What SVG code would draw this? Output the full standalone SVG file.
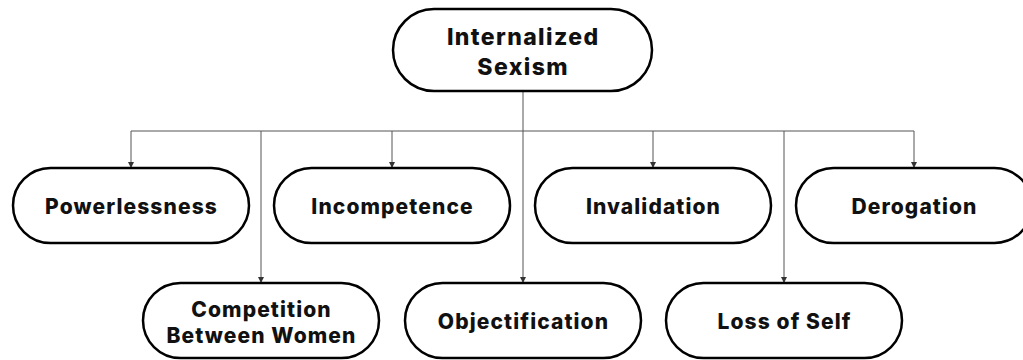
<svg xmlns="http://www.w3.org/2000/svg" width="1023" height="360" viewBox="0 0 1023 360">
<defs>
<style>
.box{fill:#fff;stroke:#000;stroke-width:2.5}
.t{font-family:Inter,"Liberation Sans",sans-serif;font-weight:800;font-size:21px;letter-spacing:1.1px;fill:#111;text-anchor:middle}
.tt{font-size:23px;letter-spacing:1.4px}
.c{fill:none;stroke:#555;stroke-width:1}
</style>
<marker id="a" markerWidth="6" markerHeight="6" refX="5" refY="3" orient="auto" markerUnits="userSpaceOnUse">
<path d="M0,0 L6,3 L0,6 z" fill="#333"/>
</marker>
</defs>
<rect width="1023" height="360" fill="#fff"/>
<g id="connectors">
<path class="c" d="M523,91 V131"/>
<path class="c" d="M131,131 H914"/>
<path class="c" d="M131,131 V167" marker-end="url(#a)"/>
<path class="c" d="M392,131 V167" marker-end="url(#a)"/>
<path class="c" d="M653,131 V167" marker-end="url(#a)"/>
<path class="c" d="M914,131 V167" marker-end="url(#a)"/>
<path class="c" d="M261,131 V282" marker-end="url(#a)"/>
<path class="c" d="M523,131 V282" marker-end="url(#a)"/>
<path class="c" d="M784,131 V282" marker-end="url(#a)"/>
</g>
<g id="internalized-sexism">
<rect class="box" x="393" y="9" width="259" height="82" rx="41"/>
<text class="t tt" x="523.2" y="45">Internalized</text>
<text class="t tt" x="523.2" y="75">Sexism</text>
</g>
<g id="powerlessness">
<rect class="box" x="13" y="168" width="236" height="75" rx="37.5"/>
<text class="t" x="131.5" y="213.5">Powerlessness</text>
</g>
<g id="incompetence">
<rect class="box" x="274" y="168" width="236" height="75" rx="37.5"/>
<text class="t" x="392.5" y="213.5">Incompetence</text>
</g>
<g id="invalidation">
<rect class="box" x="535" y="168" width="236" height="75" rx="37.5"/>
<text class="t" x="653.5" y="213.5">Invalidation</text>
</g>
<g id="derogation">
<rect class="box" x="796" y="168" width="236" height="75" rx="37.5"/>
<text class="t" x="914.5" y="213.5">Derogation</text>
</g>
<g id="competition-between-women">
<rect class="box" x="143" y="283" width="236" height="75" rx="37.5"/>
<text class="t" x="261.5" y="316.5">Competition</text>
<text class="t" x="261.5" y="343">Between Women</text>
</g>
<g id="objectification">
<rect class="box" x="405" y="283" width="236" height="75" rx="37.5"/>
<text class="t" x="523.5" y="328.5">Objectification</text>
</g>
<g id="loss-of-self">
<rect class="box" x="666" y="283" width="236" height="75" rx="37.5"/>
<text class="t" x="784.5" y="328.5">Loss of Self</text>
</g>
</svg>
